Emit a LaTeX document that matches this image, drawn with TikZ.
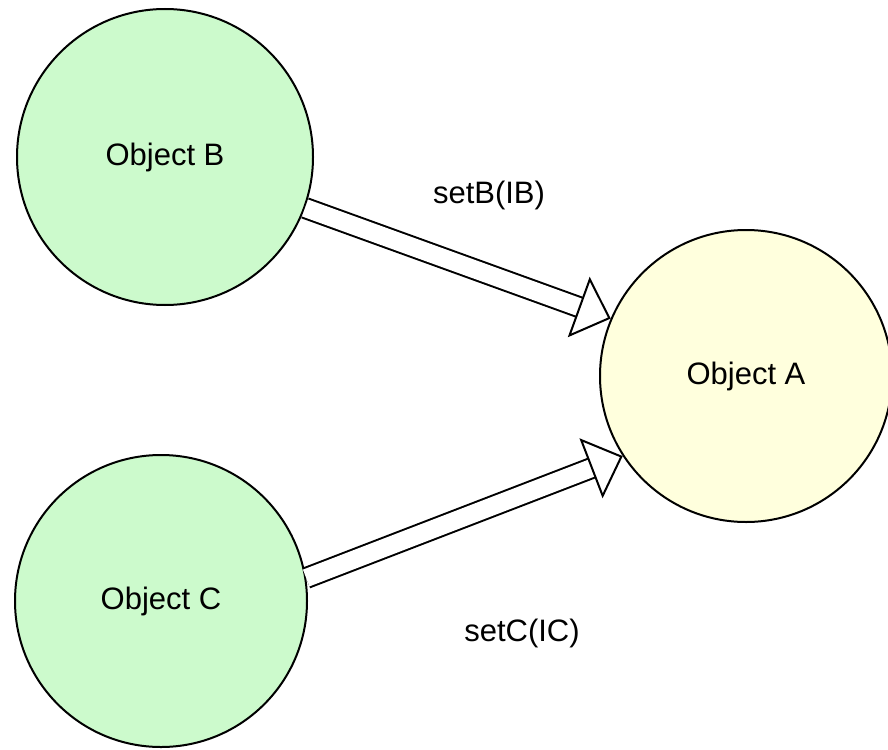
\documentclass[tikz,border=0pt]{standalone}
\usepackage{fontspec}
\setmainfont{Liberation Sans}
\usetikzlibrary{arrows.meta}
\definecolor{objgreen}{RGB}{204,250,204}
\definecolor{objyellow}{RGB}{255,255,221}
\tikzset{
    obj/.style={circle, draw, line width=2pt, inner sep=0pt, font=\fontsize{31}{36}\selectfont},
    flow/.style={double, double distance=18pt, line width=2pt,
        -{Triangle[open, fill=white, line width'=2pt, length=34pt, width=64pt]}},
    lbl/.style={font=\fontsize{31}{36}\selectfont}
}
\begin{document}
\begin{tikzpicture}[x=1pt, y=-1pt]
        \useasboundingbox (0,0) rectangle (888,749);
        \node[obj, fill=objgreen, minimum size=296pt] (B) at (165,157) {Object B};
        \node[obj, fill=objgreen, minimum size=292pt] (C) at (161,601) {Object C};
        \node[obj, fill=objyellow, minimum size=292pt] (A) at (746,376) {Object A};
        \draw[flow] (B.340) -- (A.157);
        \draw[flow] (C.9) -- (A.213);
        \node[lbl] (lB) at (489,195) {setB(IB)};
        \node[lbl] (lC) at (522,633) {setC(IC)};
    \end{tikzpicture}
\end{document}
